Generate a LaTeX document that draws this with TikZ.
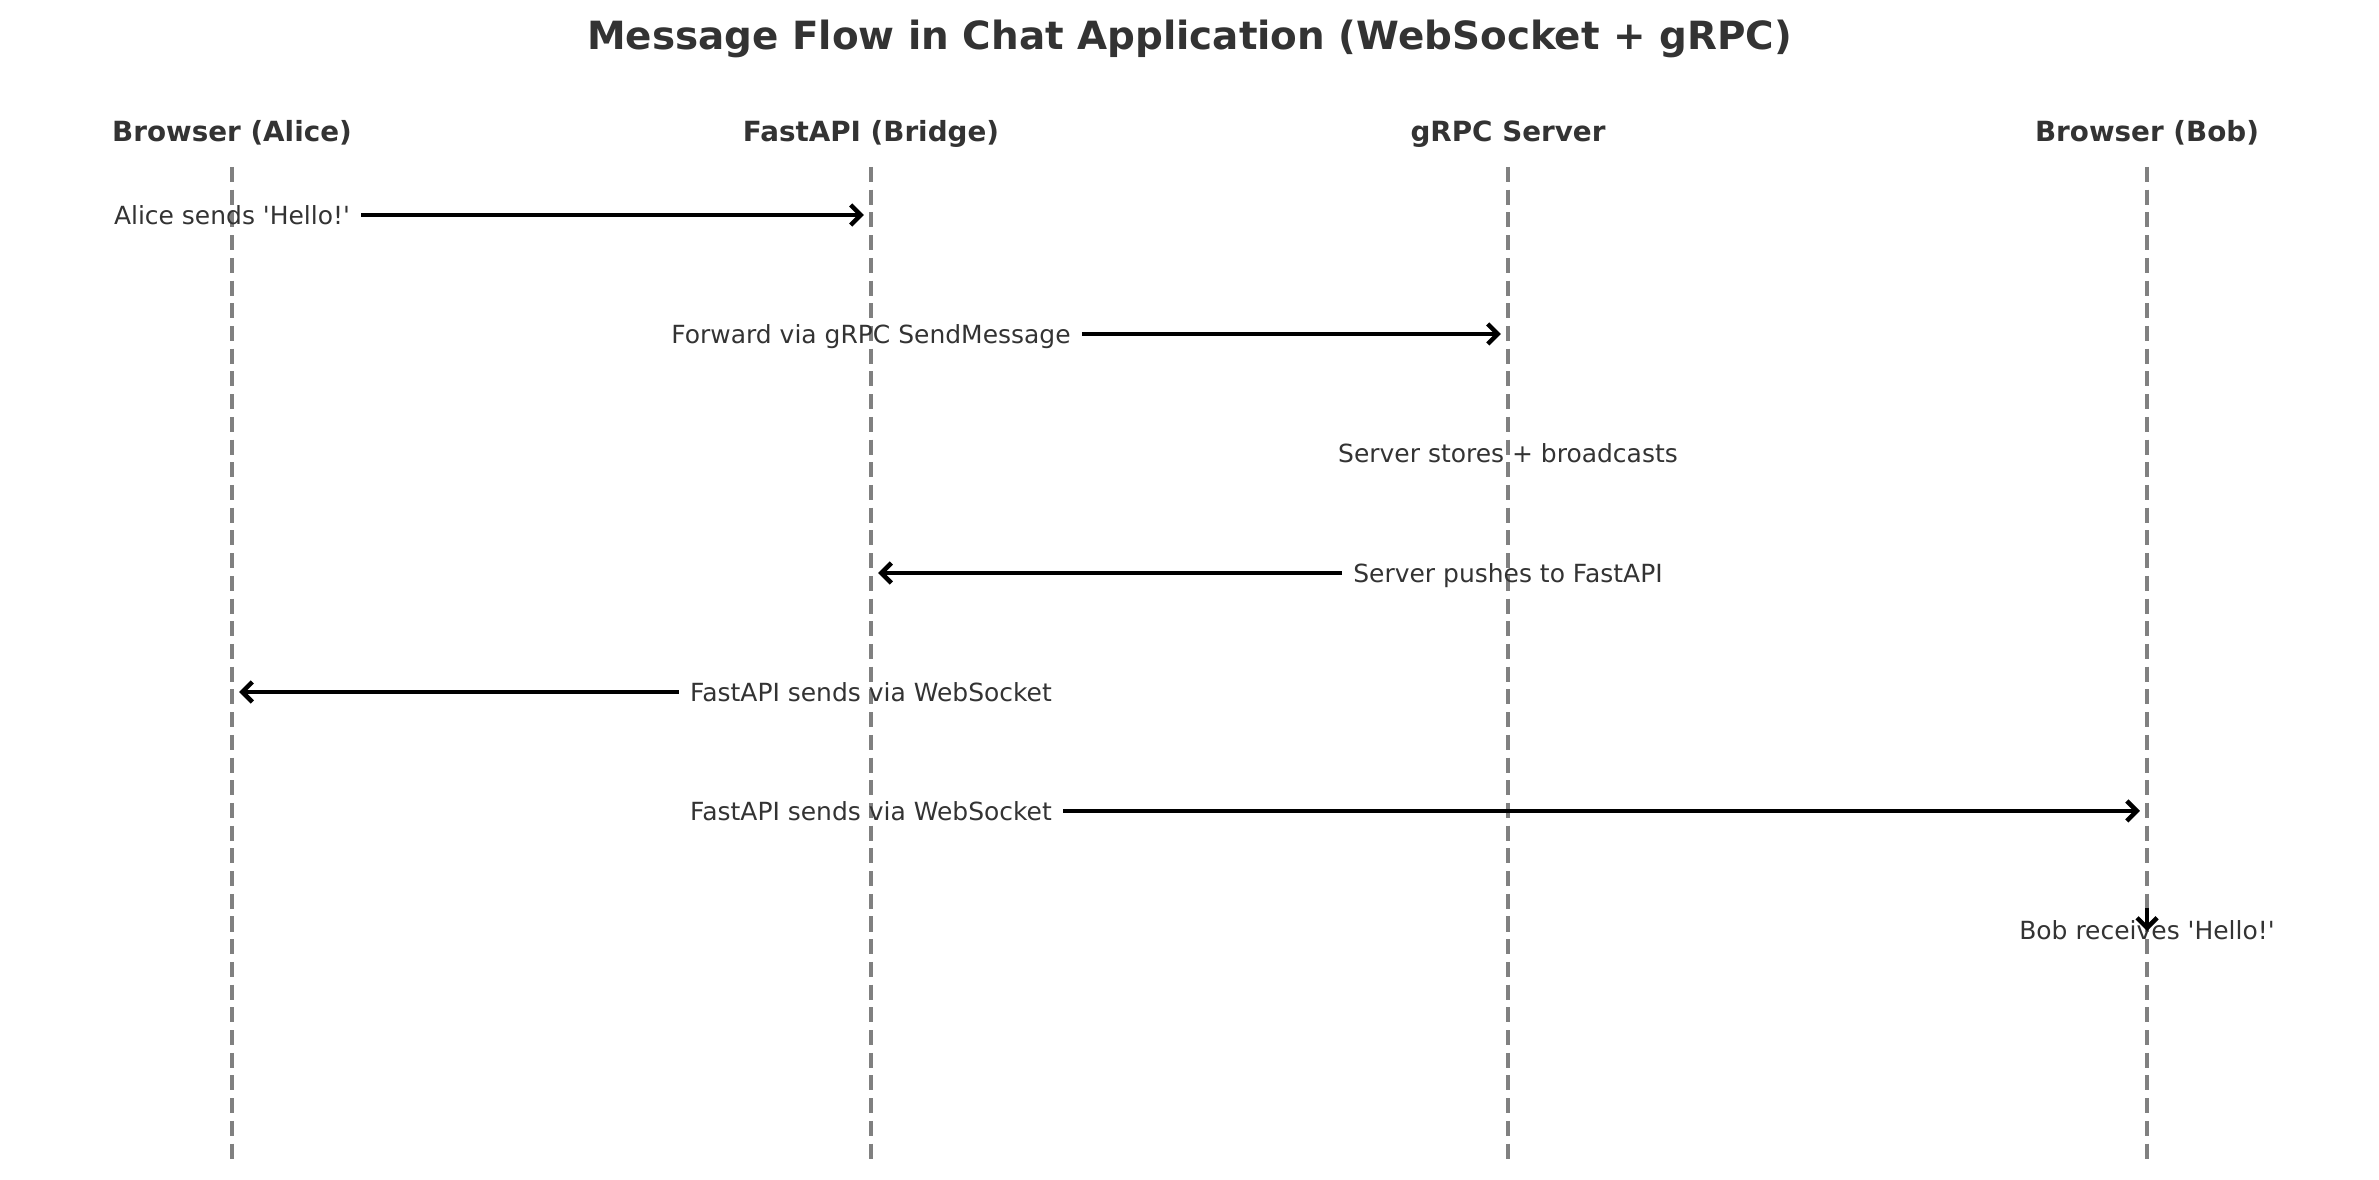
\documentclass[tikz,border=0pt]{standalone}
\usepackage{fontspec}
\setmainfont{DejaVu Sans}
\usetikzlibrary{arrows.meta, positioning}
\definecolor{inkgray}{HTML}{333333}
\definecolor{lifegray}{HTML}{808080}

\begin{document}
\begin{tikzpicture}[
  x=0.01cm, y=-0.01cm,
  actor/.style={font=\fontsize{7.9}{9}\selectfont\bfseries, text=inkgray, inner sep=0pt, text height=0.73em, text depth=0pt},
  msg/.style={font=\fontsize{7.1}{8.5}\selectfont, text=inkgray, inner sep=3pt, text height=0.73em, text depth=0pt},
  lifeline/.style={lifegray, line width=1.15pt, dash pattern=on 0.15cm off 0.077cm},
  msgarrow/.style={-{Straight Barb[length=1mm, width=2mm]}, line width=1.3pt, shorten >=2pt}
]
\useasboundingbox (0,0) rectangle (2379,1180);

% Title
\node[font=\fontsize{11.05}{14}\selectfont\bfseries, text=inkgray, text height=0.73em, text depth=0pt, inner sep=0pt] (title) at (1189.5,37) {Message Flow in Chat Application (WebSocket + gRPC)};

% Participants
\node[actor] (alice) at (232,129) {Browser (Alice)};
\node[actor] (bridge) at (871,129) {FastAPI (Bridge)};
\node[actor] (server) at (1508,129) {gRPC Server};
\node[actor] (bob) at (2147,129) {Browser (Bob)};

% Lifelines
\coordinate (aliceTop) at (232,167);
\coordinate (aliceEnd) at (232,1160);
\coordinate (bridgeTop) at (871,167);
\coordinate (bridgeEnd) at (871,1160);
\coordinate (serverTop) at (1508,167);
\coordinate (serverEnd) at (1508,1160);
\coordinate (bobTop) at (2147,167);
\coordinate (bobEnd) at (2147,1160);
\draw[lifeline] (aliceTop) -- (aliceEnd);
\draw[lifeline] (bridgeTop) -- (bridgeEnd);
\draw[lifeline] (serverTop) -- (serverEnd);
\draw[lifeline] (bobTop) -- (bobEnd);

% Messages
\node[msg] (m1) at (232,212) {Alice sends \textquotesingle Hello!\textquotesingle};
\coordinate (m1end) at (871,215);
\draw[msgarrow] (m1.east |- m1end) -- (m1end);

\node[msg] (m2) at (871,331) {Forward via gRPC SendMessage};
\coordinate (m2end) at (1508,334);
\draw[msgarrow] (m2.east |- m2end) -- (m2end);

\node[msg] (m3) at (1508,450) {Server stores + broadcasts};

\node[msg] (m4) at (1508,570) {Server pushes to FastAPI};
\coordinate (m4end) at (871,573);
\draw[msgarrow] (m4.west |- m4end) -- (m4end);

\node[msg] (m5) at (871,689) {FastAPI sends via WebSocket};
\coordinate (m5end) at (232,692);
\draw[msgarrow] (m5.west |- m5end) -- (m5end);

\node[msg] (m6) at (871,808) {FastAPI sends via WebSocket};
\coordinate (m6end) at (2147,811);
\draw[msgarrow] (m6.east |- m6end) -- (m6end);

\node[msg] (m7) at (2147,927) {Bob receives \textquotesingle Hello!\textquotesingle};
\coordinate (m7start) at (2147,908);
\coordinate (m7end) at (2147,931);
\draw[msgarrow, shorten >=0pt] (m7start) -- (m7end);

\end{tikzpicture}
\end{document}
